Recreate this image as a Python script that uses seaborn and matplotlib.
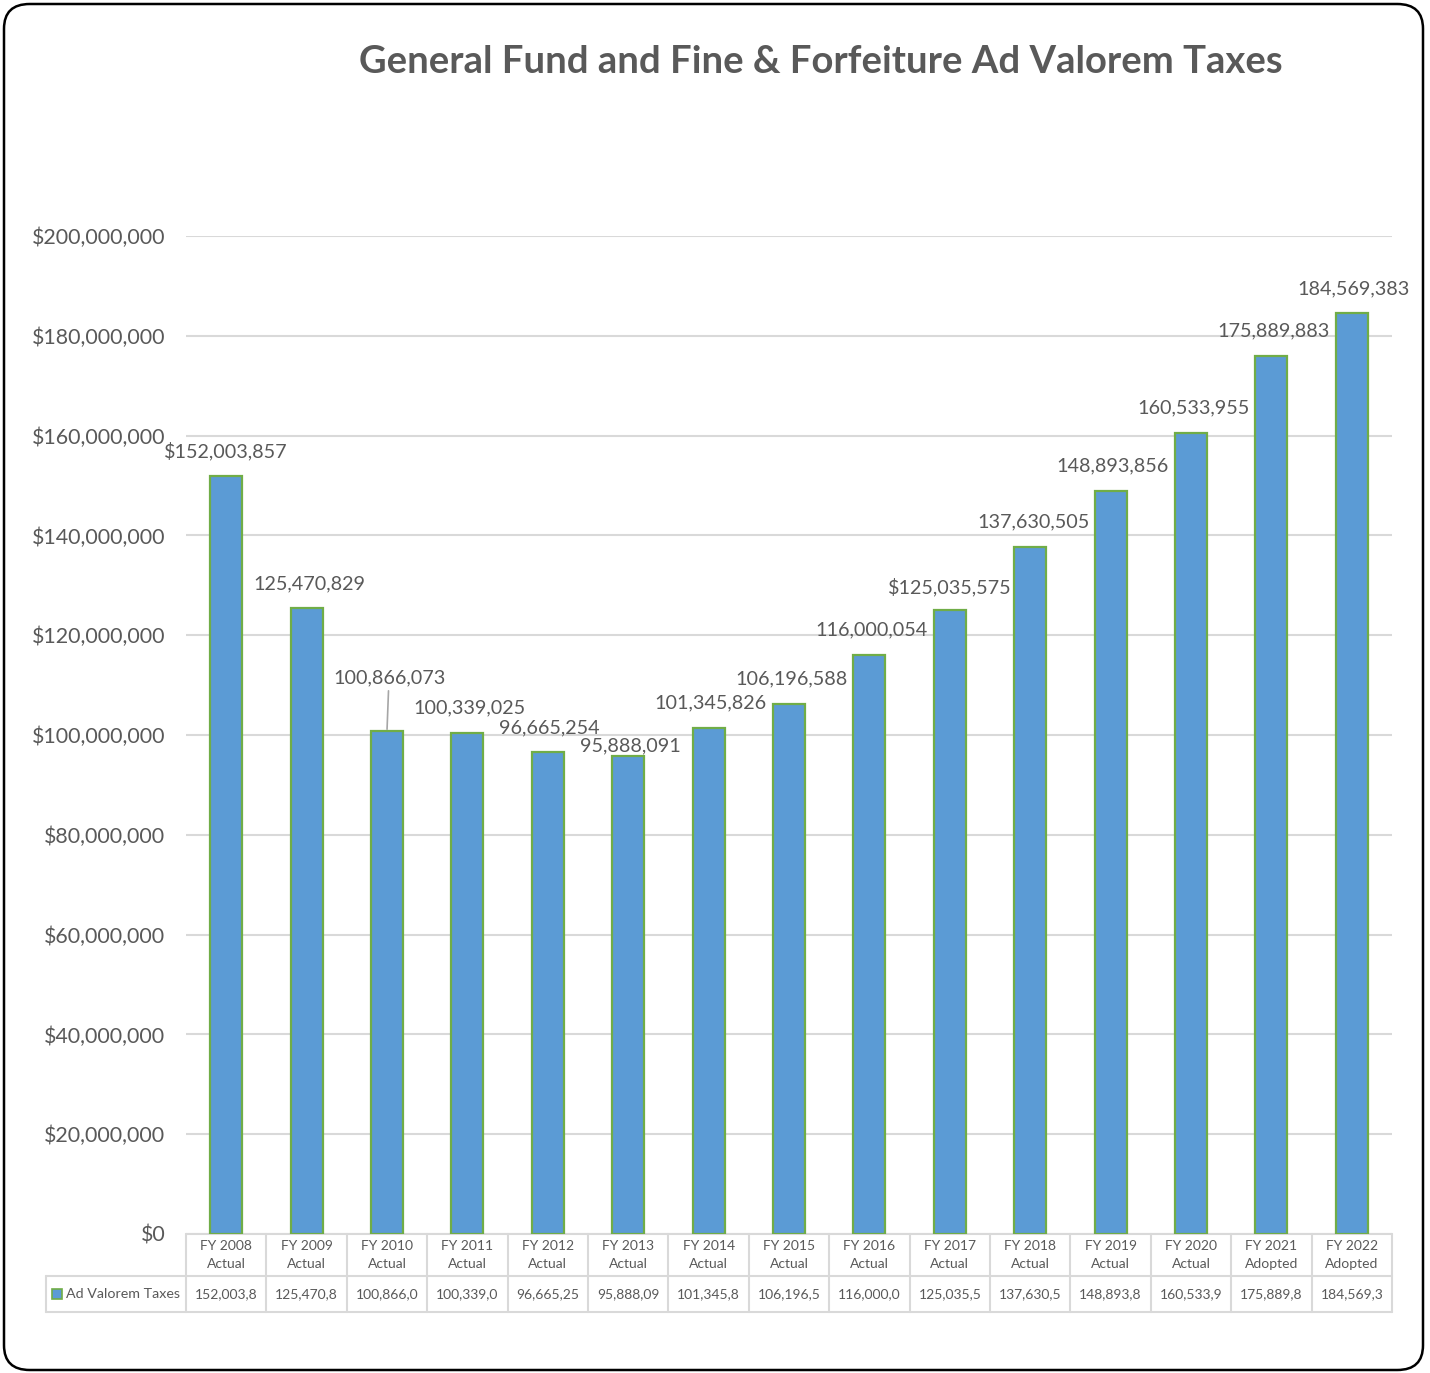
import matplotlib
matplotlib.use("Agg")
import matplotlib.pyplot as plt
from matplotlib.patches import FancyBboxPatch, Rectangle
import seaborn as sns
import pandas as pd

# Fiscal-year categories and Ad Valorem tax revenue
years = ["FY 2008", "FY 2009", "FY 2010", "FY 2011", "FY 2012", "FY 2013", "FY 2014",
         "FY 2015", "FY 2016", "FY 2017", "FY 2018", "FY 2019", "FY 2020", "FY 2021", "FY 2022"]
status = ["Actual"] * 13 + ["Adopted", "Adopted"]
ad_valorem = [152003857, 125470829, 100866073, 100339025, 96665254, 95888091, 101345826,
              106196588, 116000054, 125035575, 137630505, 148893856, 160533955, 175889883,
              184569383]
label_prefix = ["$", "", "", "", "", "", "", "", "", "$", "", "", "", "", ""]
series_name = "Ad Valorem Taxes"
title = "General Fund and Fine & Forfeiture Ad Valorem Taxes"

# Label placement (pixel offsets from bar top)
label_offsets = [(0, 24), (3, 24), (2, 53), (2, 25), (2, 24), (2, 10), (2, 25), (2, 25),
                 (2, 25), (0, 23), (3, 25), (2, 25), (2, 25), (2, 25), (2, 24)]
leader_line = [False, False, True] + [False] * 12

BAR = "#5B9BD5"
EDGE = "#70AD47"
TEXT = "#595959"
GRID = "#D9D9D9"

sns.set_style("white")
plt.rcParams["font.family"] = ["Lato", "DejaVu Sans"]

W, H = 1430, 1373
fig = plt.figure(figsize=(W / 100, H / 100), dpi=100)
ax = fig.add_axes([186 / W, 1 - 1234 / H, (1392 - 186) / W, (1234 - 236) / H])

df = pd.DataFrame({"year": years, "value": ad_valorem})
sns.barplot(data=df, x="year", y="value", ax=ax, color=BAR, saturation=1,
            width=0.4, edgecolor=EDGE, linewidth=1.6, zorder=3)

ax.set_xlim(-0.5, len(years) - 0.5)
ax.set_ylim(0, 200_000_000)
ax.set_yticks(range(0, 200_000_001, 20_000_000))
ax.set_yticklabels([f"${v:,.0f}" for v in range(0, 200_000_001, 20_000_000)],
                   fontsize=15.4, color=TEXT)
ax.tick_params(axis="y", length=0, pad=15)
ax.set_xticks([])
ax.set_xlabel("")
ax.set_ylabel("")
ax.yaxis.grid(True, color=GRID, linewidth=1.5, zorder=0)
ax.set_axisbelow(True)
for s in ax.spines.values():
    s.set_visible(False)

# Data labels
for i, v in enumerate(ad_valorem):
    dx, dy = label_offsets[i]
    arrow = dict(arrowstyle="-", color="#A6A6A6", lw=1.2, shrinkA=1, shrinkB=1) if leader_line[i] else None
    ax.annotate(f"{label_prefix[i]}{v:,}", xy=(i, v), xytext=(dx, dy),
                textcoords="offset pixels", ha="center", va="center",
                fontsize=14.2, color=TEXT, arrowprops=arrow, zorder=5)

# Data table below the plot
xt = ax.get_xaxis_transform()
row_top, row_mid, row_bot = 0.0, -42 / 998, -78 / 998
x_left = -0.5 - (186 - 46) / ((1392 - 186) / len(years))
n = len(years)
line_kw = dict(color=GRID, linewidth=1.5, transform=xt, clip_on=False, zorder=1)
ax.plot([-0.5, n - 0.5], [row_top, row_top], **line_kw)
ax.plot([x_left, n - 0.5], [row_mid, row_mid], **line_kw)
ax.plot([x_left, n - 0.5], [row_bot, row_bot], **line_kw)
for k in range(n + 1):
    ax.plot([k - 0.5, k - 0.5], [row_top, row_bot], **line_kw)
ax.plot([x_left, x_left], [row_mid, row_bot], **line_kw)

for i, (yr, st, v) in enumerate(zip(years, status, ad_valorem)):
    ax.text(i, (row_top + row_mid) / 2, f"{yr}\n{st}", transform=xt, ha="center",
            va="center", fontsize=10, color=TEXT, linespacing=1.6, clip_on=False)
    ax.text(i, (row_mid + row_bot) / 2, f"{v:,}"[:9], transform=xt, ha="center",
            va="center", fontsize=10, color=TEXT, clip_on=False)

# Legend key in table
key_y = (row_mid + row_bot) / 2
fig.patches.append(Rectangle((52 / W, 1 - 1299 / H), 10 / W, 10 / H, transform=fig.transFigure,
                             facecolor=BAR, edgecolor=EDGE, linewidth=1.2))
ax.text(x_left + 20 / 80.4, key_y, series_name, transform=xt, ha="left", va="center",
        fontsize=10.3, color=TEXT, clip_on=False)

fig.text(821 / W, 1 - 62 / H, title, ha="center", va="center", fontsize=27.5,
         fontweight="bold", color=TEXT)

# Rounded chart frame
fig.patches.append(FancyBboxPatch((4 / W, 1 - 1370 / H), 1419 / W, 1366 / H,
                                  boxstyle="round,pad=0,rounding_size=0.018",
                                  transform=fig.transFigure, facecolor="none",
                                  edgecolor="black", linewidth=1.8))

fig.savefig("out.png", dpi=100)
